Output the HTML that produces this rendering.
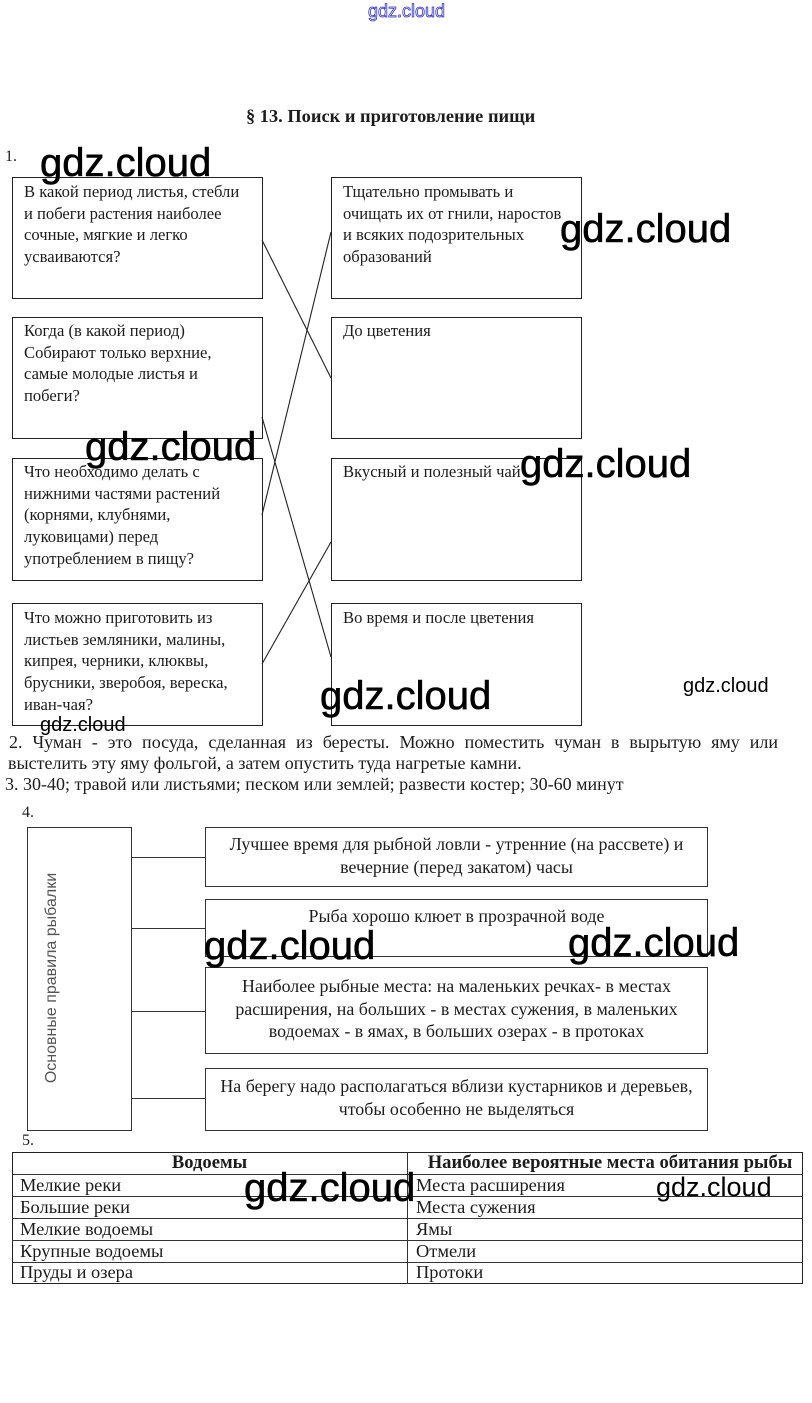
<!DOCTYPE html>
<html>
<head>
<meta charset="utf-8">
<style>
  html, body { margin:0; padding:0; background:#fff; }
  body { width:812px; height:1403px; position:relative; overflow:hidden;
         font-family:"Liberation Serif","Noto Serif CJK SC",serif; color:#1c1c1c; }
  .a { position:absolute; white-space:nowrap; }
  .box { position:absolute; border:1px solid #222; box-sizing:border-box; background:#fff; }
  .bt { position:absolute; font-size:16.6px; line-height:21.7px; white-space:nowrap; }
  .wm { position:absolute; font-family:"Liberation Sans",sans-serif; color:#000; line-height:1; white-space:nowrap; }
  .big { font-size:40px; -webkit-text-stroke:0.6px #000; }
  .r4 { position:absolute; left:205px; width:503px; border:1px solid #333; box-sizing:border-box; background:#fff;
        text-align:center; font-size:17.9px; white-space:nowrap; }
  .hl { position:absolute; height:0; border-top:1px solid #333; }
  .vl { position:absolute; width:0; border-left:1px solid #333; }
  .td { position:absolute; font-size:18.4px; line-height:22px; white-space:nowrap; }
</style>
</head>
<body>

<!-- top blue watermark -->
<div class="wm" style="left:368px;top:2px;font-size:18px;color:#fff;-webkit-text-stroke:0.8px #3030c8;">gdz.cloud</div>

<!-- title -->
<div class="a" style="left:246px;top:105px;font-size:18.4px;font-weight:bold;line-height:22px;">§ 13. Поиск и приготовление пищи</div>

<div class="a" style="left:5px;top:147px;font-size:16px;line-height:19px;">1.</div>

<!-- Section 1 boxes -->
<div class="box" style="left:12px;top:177px;width:251px;height:122px;"></div>
<div class="box" style="left:12px;top:317px;width:251px;height:122px;"></div>
<div class="box" style="left:12px;top:458px;width:251px;height:123px;"></div>
<div class="box" style="left:12px;top:603px;width:251px;height:123px;"></div>

<div class="box" style="left:331px;top:177px;width:251px;height:122px;"></div>
<div class="box" style="left:331px;top:317px;width:251px;height:122px;"></div>
<div class="box" style="left:331px;top:458px;width:251px;height:123px;"></div>
<div class="box" style="left:331px;top:603px;width:251px;height:123px;"></div>

<div class="bt" style="left:24px;top:181px;">В какой период листья, стебли<br>и побеги растения наиболее<br>сочные, мягкие и легко<br>усваиваются?</div>
<div class="bt" style="left:24px;top:320px;">Когда (в какой период)<br>Собирают только верхние,<br>самые молодые листья и<br>побеги?</div>
<div class="bt" style="left:24px;top:461px;">Что необходимо делать с<br>нижними частями растений<br>(корнями, клубнями,<br>луковицами) перед<br>употреблением в пищу?</div>
<div class="bt" style="left:24px;top:607px;">Что можно приготовить из<br>листьев земляники, малины,<br>кипрея, черники, клюквы,<br>брусники, зверобоя, вереска,<br>иван-чая?</div>

<div class="bt" style="left:343px;top:181px;">Тщательно промывать и<br>очищать их от гнили, наростов<br>и всяких подозрительных<br>образований</div>
<div class="bt" style="left:343px;top:320px;">До цветения</div>
<div class="bt" style="left:343px;top:461px;">Вкусный и полезный чай</div>
<div class="bt" style="left:343px;top:607px;">Во время и после цветения</div>

<!-- connectors section 1 -->
<svg class="a" style="left:0;top:0;" width="812" height="1403" xmlns="http://www.w3.org/2000/svg">
  <g stroke="#222" stroke-width="1.1" fill="none">
    <line x1="262" y1="240" x2="331" y2="378"/>
    <line x1="331" y1="232" x2="262" y2="515"/>
    <line x1="262" y1="417" x2="331" y2="657"/>
    <line x1="331" y1="542" x2="262" y2="664"/>
  </g>
</svg>

<!-- Section 2 / 3 -->
<div class="a" style="left:9px;top:732px;width:769px;font-size:18px;line-height:21px;text-align:justify;text-align-last:justify;white-space:normal;">2. Чуман - это посуда, сделанная из бересты. Можно поместить чуман в вырытую яму или</div>
<div class="a" style="left:8px;top:753px;font-size:18px;line-height:21px;">выстелить эту яму фольгой, а затем опустить туда нагретые камни.</div>
<div class="a" style="left:5px;top:774px;font-size:18px;line-height:21px;">3. 30-40; травой или листьями; песком или землей; развести костер; 30-60 минут</div>

<div class="a" style="left:22px;top:803px;font-size:16px;line-height:19px;">4.</div>

<!-- Section 4 -->
<div class="box" style="left:27px;top:827px;width:105px;height:304px;border-color:#333;"></div>
<div class="a" style="left:52px;top:978px;width:0;height:0;">
  <div style="position:absolute;left:0;top:0;transform:translate(-50%,-50%) rotate(-90deg);font-family:'Liberation Sans',sans-serif;font-size:16px;color:#555;white-space:nowrap;line-height:18px;">Основные правила рыбалки</div>
</div>

<div class="hl" style="left:131px;top:857px;width:74px;"></div>
<div class="hl" style="left:131px;top:928px;width:74px;"></div>
<div class="hl" style="left:131px;top:1011px;width:74px;"></div>
<div class="hl" style="left:131px;top:1098px;width:74px;"></div>

<div class="r4" style="top:827px;height:60px;line-height:23px;padding-top:5px;">Лучшее время для рыбной ловли - утренние (на рассвете) и<br>вечерние (перед закатом) часы</div>
<div class="r4" style="top:899px;height:58px;line-height:23px;padding-top:5px;">Рыба хорошо клюет в прозрачной воде</div>
<div class="r4" style="top:967px;height:87px;line-height:22.5px;padding-top:7px;">Наиболее рыбные места: на маленьких речках- в местах<br>расширения, на больших - в местах сужения, в маленьких<br>водоемах - в ямах, в больших озерах - в протоках</div>
<div class="r4" style="top:1068px;height:63px;line-height:23px;padding-top:6px;">На берегу надо располагаться вблизи кустарников и деревьев,<br>чтобы особенно не выделяться</div>

<div class="a" style="left:22px;top:1131px;font-size:16px;line-height:19px;">5.</div>

<!-- Section 5 table -->
<div class="box" style="left:12px;top:1152px;width:791px;height:132px;"></div>
<div class="vl" style="left:407px;top:1152px;height:132px;"></div>
<div class="hl" style="left:12px;top:1174px;width:791px;"></div>
<div class="hl" style="left:12px;top:1196px;width:791px;"></div>
<div class="hl" style="left:12px;top:1218px;width:791px;"></div>
<div class="hl" style="left:12px;top:1240px;width:791px;"></div>
<div class="hl" style="left:12px;top:1262px;width:791px;"></div>

<div class="td" style="left:12px;width:395px;text-align:center;top:1152px;font-weight:bold;font-size:18.6px;">Водоемы</div>
<div class="td" style="left:412px;width:396px;text-align:center;top:1152px;font-weight:bold;font-size:18.6px;">Наиболее вероятные места обитания рыбы</div>

<div class="td" style="left:20px;top:1174px;">Мелкие реки</div>
<div class="td" style="left:20px;top:1196px;">Большие реки</div>
<div class="td" style="left:20px;top:1218px;">Мелкие водоемы</div>
<div class="td" style="left:20px;top:1240px;">Крупные водоемы</div>
<div class="td" style="left:20px;top:1261px;">Пруды и озера</div>

<div class="td" style="left:416px;top:1174px;">Места расширения</div>
<div class="td" style="left:416px;top:1196px;">Места сужения</div>
<div class="td" style="left:416px;top:1218px;">Ямы</div>
<div class="td" style="left:416px;top:1240px;">Отмели</div>
<div class="td" style="left:416px;top:1261px;">Протоки</div>

<!-- watermarks -->
<div class="wm big" style="left:40px;top:143px;">gdz.cloud</div>
<div class="wm big" style="left:560px;top:209px;">gdz.cloud</div>
<div class="wm big" style="left:85px;top:427px;">gdz.cloud</div>
<div class="wm big" style="left:520px;top:444px;">gdz.cloud</div>
<div class="wm big" style="left:320px;top:676px;">gdz.cloud</div>
<div class="wm" style="left:683px;top:676px;font-size:20px;">gdz.cloud</div>
<div class="wm" style="left:40px;top:715px;font-size:20px;">gdz.cloud</div>
<div class="wm big" style="left:204px;top:926px;">gdz.cloud</div>
<div class="wm big" style="left:568px;top:923px;">gdz.cloud</div>
<div class="wm big" style="left:244px;top:1168px;">gdz.cloud</div>
<div class="wm" style="left:656px;top:1174px;font-size:27px;">gdz.cloud</div>

</body>
</html>
